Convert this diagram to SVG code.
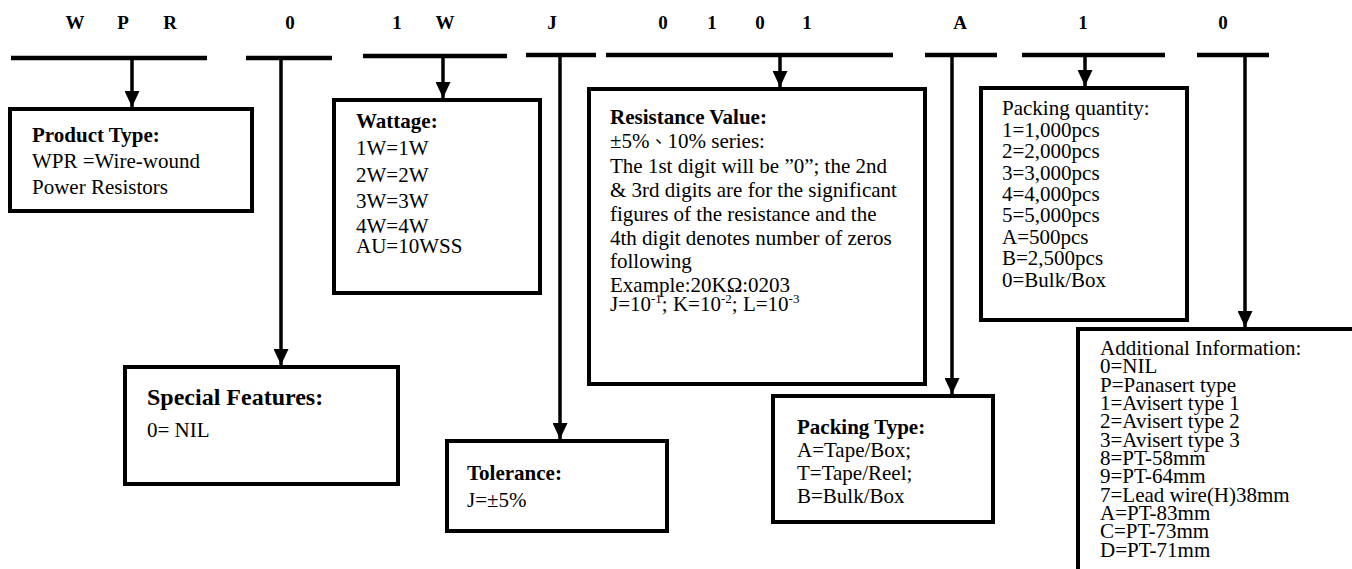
<svg xmlns="http://www.w3.org/2000/svg" width="1352" height="569" viewBox="0 0 1352 569">
<style>
text{font-family:"Liberation Serif","Times New Roman",serif;font-size:21px;fill:#000}
.h{font-weight:bold;font-size:19px;text-anchor:middle}
.b{font-weight:bold}
.cjk{font-family:"Noto Sans CJK TC","Liberation Serif",serif;font-size:18px}
.box{fill:#fff;stroke:#000;stroke-width:4}
.bar{stroke:#000;stroke-width:4.5;fill:none}
.con{stroke:#000;stroke-width:3.5;fill:none}
.sup{font-size:13px}
</style>
<defs>
<marker id="ah" markerUnits="userSpaceOnUse" markerWidth="16" markerHeight="15" refX="16" refY="7.5" orient="auto" viewBox="0 0 16 15">
<path d="M0,0 L16,7.5 L0,15 z" fill="#000"/>
</marker>
</defs>
<g id="header">
<text class="h" x="75" y="29">W</text>
<text class="h" x="123" y="29">P</text>
<text class="h" x="170" y="29">R</text>
<text class="h" x="290" y="29">0</text>
<text class="h" x="397" y="29">1</text>
<text class="h" x="445" y="29">W</text>
<text class="h" x="552" y="29">J</text>
<text class="h" x="663" y="29">0</text>
<text class="h" x="712" y="29">1</text>
<text class="h" x="760" y="29">0</text>
<text class="h" x="807" y="29">1</text>
<text class="h" x="960" y="29">A</text>
<text class="h" x="1083" y="29">1</text>
<text class="h" x="1223" y="29">0</text>
</g>
<g id="connectors">
<line class="bar" x1="11" y1="58" x2="207" y2="58"/>
<line class="bar" x1="246" y1="58" x2="332" y2="58"/>
<line class="bar" x1="363" y1="56" x2="507" y2="56"/>
<line class="bar" x1="526" y1="55" x2="596" y2="55"/>
<line class="bar" x1="606" y1="55" x2="893" y2="55"/>
<line class="bar" x1="925" y1="55" x2="997" y2="55"/>
<line class="bar" x1="1022" y1="55" x2="1165" y2="55"/>
<line class="bar" x1="1197" y1="55" x2="1269" y2="55"/>
<line class="con" x1="132" y1="58" x2="132" y2="107" marker-end="url(#ah)"/>
<line class="con" x1="281" y1="58" x2="281" y2="365" marker-end="url(#ah)"/>
<line class="con" x1="443" y1="56" x2="443" y2="98" marker-end="url(#ah)"/>
<line class="con" x1="560" y1="55" x2="560" y2="439" marker-end="url(#ah)"/>
<line class="con" x1="780" y1="55" x2="780" y2="87" marker-end="url(#ah)"/>
<line class="con" x1="952" y1="55" x2="952" y2="394" marker-end="url(#ah)"/>
<line class="con" x1="1085" y1="55" x2="1085" y2="86" marker-end="url(#ah)"/>
<line class="con" x1="1245" y1="55" x2="1245" y2="327" marker-end="url(#ah)"/>
</g>
<g id="product-type">
<rect class="box" x="10" y="109" width="242" height="102"/>
<text class="b" x="32" y="142">Product Type:</text>
<text x="32" y="168">WPR =Wire-wound</text>
<text x="32" y="194">Power Resistors</text>
</g>
<g id="special-features">
<rect class="box" x="125" y="367" width="273" height="117"/>
<text class="b" x="147" y="405" style="font-size:24px">Special Features:</text>
<text x="147" y="437">0= NIL</text>
</g>
<g id="wattage">
<rect class="box" x="334" y="100" width="206" height="193"/>
<text class="b" x="356" y="128">Wattage:</text>
<text x="356" y="155">1W=1W</text>
<text x="356" y="182">2W=2W</text>
<text x="356" y="208">3W=3W</text>
<text x="356" y="233">4W=4W</text>
<text x="356" y="253">AU=10WSS</text>
</g>
<g id="tolerance">
<rect class="box" x="447" y="441" width="220" height="90"/>
<text class="b" x="467" y="480">Tolerance:</text>
<text x="467" y="507">J=±5%</text>
</g>
<g id="resistance-value">
<rect class="box" x="589" y="89" width="336" height="295"/>
<text class="b" x="610" y="124">Resistance Value:</text>
<text x="610" y="148">±5%<tspan class="cjk">、</tspan>10% series:</text>
<text x="610" y="173">The 1st digit will be ”0”; the 2nd</text>
<text x="610" y="197">&amp; 3rd digits are for the significant</text>
<text x="610" y="221">figures of the resistance and the</text>
<text x="610" y="245">4th digit denotes number of zeros</text>
<text x="610" y="268">following</text>
<text x="610" y="292">Example:20KΩ:0203</text>
<text x="610" y="311">J=10<tspan class="sup" dy="-8">-1</tspan><tspan dy="8">; K=10</tspan><tspan class="sup" dy="-8">-2</tspan><tspan dy="8">; L=10</tspan><tspan class="sup" dy="-8">-3</tspan></text>
</g>
<g id="packing-type">
<rect class="box" x="773" y="396" width="220" height="126"/>
<text class="b" x="797" y="434">Packing Type:</text>
<text x="797" y="457">A=Tape/Box;</text>
<text x="797" y="480">T=Tape/Reel;</text>
<text x="797" y="503">B=Bulk/Box</text>
</g>
<g id="packing-quantity">
<rect class="box" x="981" y="88" width="206" height="232"/>
<text x="1002" y="115">Packing quantity:</text>
<text x="1002" y="137">1=1,000pcs</text>
<text x="1002" y="158">2=2,000pcs</text>
<text x="1002" y="180">3=3,000pcs</text>
<text x="1002" y="201">4=4,000pcs</text>
<text x="1002" y="222">5=5,000pcs</text>
<text x="1002" y="244">A=500pcs</text>
<text x="1002" y="265">B=2,500pcs</text>
<text x="1002" y="287">0=Bulk/Box</text>
</g>
<g id="additional-information">
<rect class="box" x="1078" y="329" width="280" height="250"/>
<text x="1100" y="355">Additional Information:</text>
<text x="1100" y="373">0=NIL</text>
<text x="1100" y="392">P=Panasert type</text>
<text x="1100" y="410">1=Avisert type 1</text>
<text x="1100" y="428">2=Avisert type 2</text>
<text x="1100" y="447">3=Avisert type 3</text>
<text x="1100" y="465">8=PT-58mm</text>
<text x="1100" y="483">9=PT-64mm</text>
<text x="1100" y="502">7=Lead wire(H)38mm</text>
<text x="1100" y="520">A=PT-83mm</text>
<text x="1100" y="538">C=PT-73mm</text>
<text x="1100" y="557">D=PT-71mm</text>
</g>
</svg>
